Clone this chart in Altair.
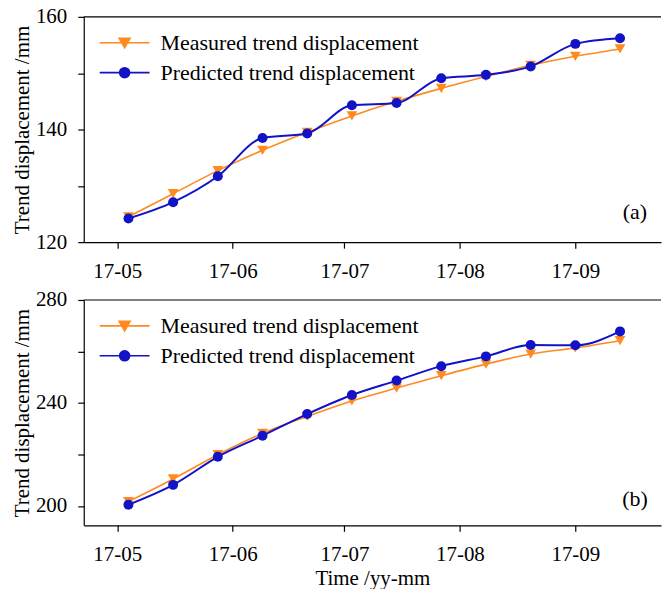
import altair as alt
import pandas as pd

# Sampling dates (every 12 days) and trend displacement values in mm
dates = [
    "2017-05-04", "2017-05-16", "2017-05-28", "2017-06-09", "2017-06-21", "2017-07-03",
    "2017-07-15", "2017-07-27", "2017-08-08", "2017-08-20", "2017-09-01", "2017-09-13",
]
measured_a = [124.5, 128.6, 132.7, 136.3, 139.5, 142.4, 145.0, 147.3, 149.4, 151.4, 153.0, 154.3]
predicted_a = [124.2, 127.1, 131.7, 138.5, 139.3, 144.3, 144.7, 149.1, 149.7, 151.2, 155.2, 156.2]
measured_b = [201.7, 210.5, 219.9, 228.2, 234.8, 240.8, 245.8, 250.6, 255.1, 259.0, 261.4, 264.2]
predicted_b = [200.5, 208.2, 219.1, 227.3, 235.7, 243.1, 248.7, 254.3, 258.1, 262.5, 262.4, 267.8]

series_names = ["Measured trend displacement", "Predicted trend displacement"]
month_ticks = [5, 6, 7, 8, 9]

ORANGE = "#FF8A1F"
BLUE = "#1212C6"
FONT = "Liberation Serif"

# legend glyphs: a short line with the marker in the middle
TRI_PATH = "M-2.5,0H2.5M-0.55,-0.45L0.55,-0.45L0,0.5Z"
CIRC_PATH = "M-2.5,0H2.5M0.5,0A0.5,0.5,0,1,1,-0.5,0A0.5,0.5,0,1,1,0.5,0Z"

x_scale = alt.Scale(
    type="utc",
    domain=[alt.DateTime(year=2017, month=4, date=22, utc=True),
            alt.DateTime(year=2017, month=9, date=24, utc=True)],
)


def panel(measured, predicted, y_domain, y_ticks, label_step, tag, tag_date, tag_value, x_title):
    df = pd.DataFrame({
        "date": dates * 2,
        "value": measured + predicted,
        "series": [series_names[0]] * len(dates) + [series_names[1]] * len(dates),
    })
    base = alt.Chart(df)

    x_axis = alt.Axis(
        values=[alt.DateTime(year=2017, month=m, date=1, utc=True) for m in month_ticks],
        format="%y-%m", title=x_title, labelPadding=12, titlePadding=3,
    )
    y_scale = alt.Scale(domain=y_domain, nice=False, zero=False)
    y_axis = alt.Axis(
        values=y_ticks,
        labelExpr=f"datum.value % {label_step} == 0 ? datum.label : ''",
        title="Trend displacement /mm", labelPadding=11, titlePadding=3,
    )

    def xy(y_field="value"):
        return dict(
            x=alt.X("date:T", scale=x_scale, axis=x_axis),
            y=alt.Y(f"{y_field}:Q", scale=y_scale, axis=y_axis),
        )

    meas = base.transform_filter(alt.datum.series == series_names[0])
    pred = base.transform_filter(alt.datum.series == series_names[1])

    line_m = meas.mark_line(color=ORANGE, strokeWidth=1.6, interpolate="monotone").encode(**xy())
    pts_m = meas.mark_point(shape="triangle-down", filled=True, size=115, color=ORANGE, opacity=1).encode(**xy())
    line_p = pred.mark_line(color=BLUE, strokeWidth=2, interpolate="monotone").encode(**xy())
    pts_p = pred.mark_point(shape="circle", filled=True, size=100, color=BLUE, opacity=1).encode(**xy())

    # upper frame line at the top of the value range
    frame_top = alt.Chart(pd.DataFrame({"top": [y_domain[1]]})).mark_rule(color="black", strokeWidth=1.2).encode(
        y=xy("top")["y"]
    )

    legend = alt.Legend(
        orient="none", legendX=30, legendY=15, title=None, padding=0,
        labelFont=FONT, labelFontSize=22, labelColor="black", labelLimit=400,
        labelOffset=25, rowPadding=8, symbolSize=400, symbolStrokeWidth=1.6,
        symbolOpacity=1,
    )
    key = base.mark_point(size=400, opacity=0).encode(
        **xy(),
        shape=alt.Shape("series:N", scale=alt.Scale(domain=series_names, range=[TRI_PATH, CIRC_PATH]), legend=legend),
        fill=alt.Fill("series:N", scale=alt.Scale(domain=series_names, range=[ORANGE, BLUE]), legend=legend),
        stroke=alt.Stroke("series:N", scale=alt.Scale(domain=series_names, range=[ORANGE, BLUE]), legend=legend),
    )

    tag_df = pd.DataFrame({"date": [tag_date], "value": [tag_value], "tag": [tag]})
    tag_text = alt.Chart(tag_df).mark_text(font=FONT, fontSize=22, color="black").encode(**xy(), text="tag:N")

    return alt.layer(line_m, frame_top, pts_m, line_p, pts_p, key, tag_text).properties(width=579, height=226)


top = panel(measured_a, predicted_a, [120, 160], [120, 130, 140, 150, 160], 20,
            "(a)", "2017-09-17", 125.3, None)
bottom = panel(measured_b, predicted_b, [192.5, 280], [200, 220, 240, 260, 280], 40,
               "(b)", "2017-09-17", 202.7, "Time /yy-mm")

chart = (
    alt.vconcat(top, bottom, spacing=8)
    .resolve_scale(shape="independent", fill="independent", stroke="independent")
    .properties(padding={"left": 11, "top": 5, "right": 0, "bottom": 0}, background="white")
    .configure_view(stroke=None)
    .configure_axis(
        labelFont=FONT, labelFontSize=21, labelColor="black",
        titleFont=FONT, titleFontSize=21, titleFontWeight="normal", titleColor="black",
        domainColor="black", domainWidth=1.2, tickColor="black", tickSize=6, tickWidth=1.2,
        grid=False,
    )
)

chart.save("out.html", embed_options={"renderer": "svg", "actions": False})
